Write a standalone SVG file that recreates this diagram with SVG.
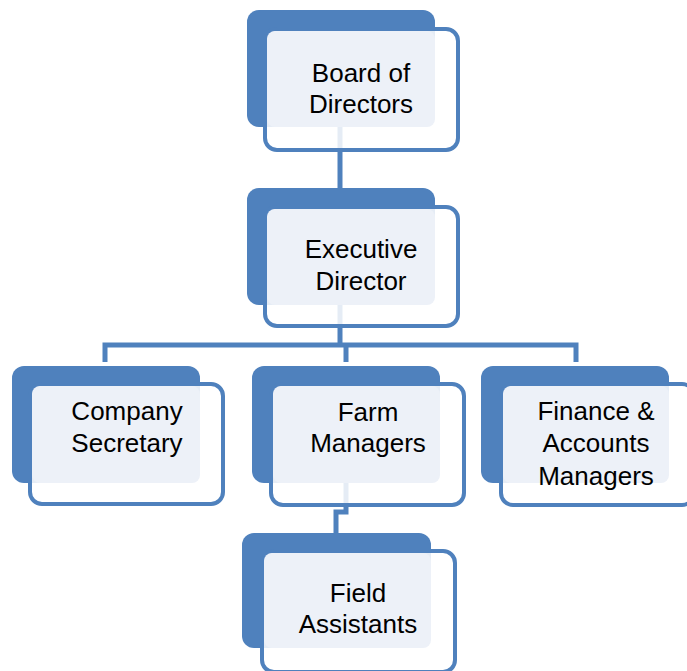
<svg xmlns="http://www.w3.org/2000/svg" width="687" height="671" viewBox="0 0 687 671">
<style>
.back{fill:#4F81BD}
.frame{fill:#FFFFFF;fill-opacity:0.85;stroke:#4F81BD;stroke-width:4}
.face{fill:#EDF1F8}
.lbl{font-family:"Liberation Sans",Arial,sans-serif;font-size:26px;fill:#000;text-anchor:middle}
.conn{fill:none;stroke:#4F81BD;stroke-width:5}
</style>
<rect width="687" height="671" fill="#FFFFFF"/>
<g id="connectors">
<line class="conn" x1="340" y1="120" x2="340" y2="190"/>
<line class="conn" x1="340" y1="300" x2="340" y2="346"/>
<polyline class="conn" points="105,362 105,345 576,345 576,362"/>
<line class="conn" x1="346" y1="345" x2="346" y2="362"/>
<polyline class="conn" points="346,480 346,512 336,512 336,535"/>
</g>
<g id="board">
<rect class="back" x="247" y="10" width="188" height="117" rx="12"/>
<rect class="frame" x="265" y="29" width="193" height="121" rx="12"/>
<rect class="face" x="267" y="31" width="168" height="96" rx="8"/>
<text class="lbl" x="361" y="82">Board of</text>
<text class="lbl" x="361" y="113">Directors</text>
</g>
<g id="executive">
<rect class="back" x="247" y="188" width="188" height="117" rx="12"/>
<rect class="frame" x="265" y="207" width="193" height="119" rx="12"/>
<rect class="face" x="267" y="209" width="168" height="96" rx="8"/>
<text class="lbl" x="361" y="258">Executive</text>
<text class="lbl" x="361" y="290">Director</text>
</g>
<g id="secretary">
<rect class="back" x="12" y="366" width="188" height="117" rx="12"/>
<rect class="frame" x="30" y="384" width="193" height="120" rx="12"/>
<rect class="face" x="32" y="386" width="168" height="97" rx="8"/>
<text class="lbl" x="127" y="420">Company</text>
<text class="lbl" x="127" y="452">Secretary</text>
</g>
<g id="farm">
<rect class="back" x="252" y="366" width="188" height="117" rx="12"/>
<rect class="frame" x="271" y="384" width="193" height="121" rx="12"/>
<rect class="face" x="273" y="386" width="167" height="97" rx="8"/>
<text class="lbl" x="368" y="421">Farm</text>
<text class="lbl" x="368" y="452">Managers</text>
</g>
<g id="finance">
<rect class="back" x="481" y="366" width="188" height="117" rx="12"/>
<rect class="frame" x="501" y="384" width="193" height="121" rx="12"/>
<rect class="face" x="503" y="386" width="166" height="97" rx="8"/>
<text class="lbl" x="596" y="420">Finance &amp;</text>
<text class="lbl" x="596" y="452">Accounts</text>
<text class="lbl" x="596" y="485">Managers</text>
</g>
<g id="field">
<rect class="back" x="242" y="533" width="189" height="115" rx="12"/>
<rect class="frame" x="262" y="551" width="193" height="121" rx="12"/>
<rect class="face" x="264" y="553" width="167" height="95" rx="8"/>
<text class="lbl" x="358" y="602">Field</text>
<text class="lbl" x="358" y="633">Assistants</text>
</g>
</svg>
